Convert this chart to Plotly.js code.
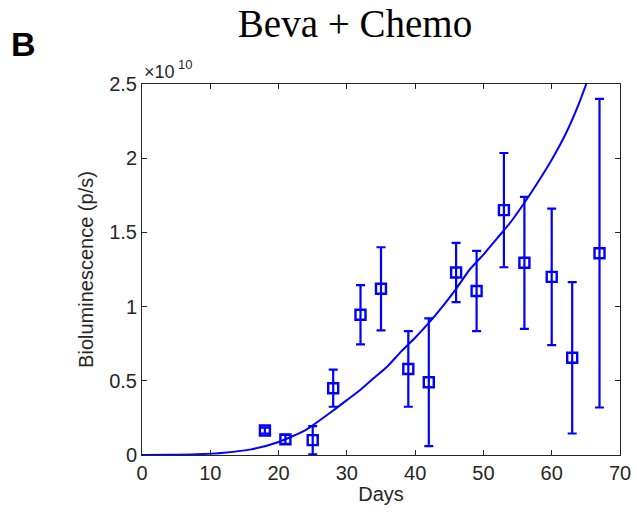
<!DOCTYPE html>
<html>
<head>
<meta charset="utf-8">
<script src="https://cdn.plot.ly/plotly-3.0.1.min.js"></script>
<style>html,body{margin:0;padding:0;background:#fff;}#chart{width:637px;height:514px;}</style>
</head>
<body>
<div id="chart"></div>
<script>
// Observed data (bioluminescence in units of 1e10 p/s)
var days = [18, 21, 25, 28, 32, 35, 39, 42, 46, 49, 53, 56, 60, 63, 67];
var meanVals = [0.165, 0.105, 0.10, 0.45, 0.945, 1.12, 0.58, 0.49, 1.23, 1.105, 1.65, 1.295, 1.20, 0.655, 1.36];
var errVals = [0.02, 0.03, 0.095, 0.125, 0.20, 0.28, 0.255, 0.43, 0.20, 0.27, 0.385, 0.445, 0.46, 0.51, 1.04];

// Model fit curve (units of 1e10 p/s)
var fitDays = [0, 4, 8, 12, 16, 20, 24, 28, 30, 32, 34, 36, 38, 40, 42, 44, 46, 48, 50, 52, 54, 56, 58, 60, 62, 64, 66];
var fitVals = [0, 0.001, 0.005, 0.016, 0.038, 0.088, 0.17, 0.30, 0.37, 0.44, 0.52, 0.60, 0.70, 0.79, 0.89, 1.00, 1.12, 1.25, 1.35, 1.46, 1.57, 1.70, 1.84, 1.99, 2.16, 2.37, 2.62];

var yTickVals = [0, 0.5, 1, 1.5, 2, 2.5];
var yTickText = ['0', '0.5', '1', '1.5', '2', '2.5'];
var xTickVals = [0, 10, 20, 30, 40, 50, 60, 70];

var blue = '#0000ff';
var axisColor = '#262626';

var traces = [
  {
    x: fitDays, y: fitVals, mode: 'lines', type: 'scatter',
    line: {color: blue, width: 2, shape: 'spline', smoothing: 0.6},
    hoverinfo: 'skip'
  },
  {
    x: days, y: meanVals, mode: 'markers', type: 'scatter',
    marker: {symbol: 'square-open', size: 10, color: blue, line: {color: blue, width: 2.4}},
    error_y: {type: 'data', array: errVals, visible: true, color: blue, thickness: 2.2, width: 4.5}
  }
];

var layout = {
  width: 637, height: 514,
  margin: {l: 142, r: 17, t: 84, b: 59},
  paper_bgcolor: '#ffffff', plot_bgcolor: '#ffffff',
  showlegend: false,
  font: {family: 'Liberation Sans, Arial, sans-serif', color: axisColor, size: 20},
  title: {
    text: 'Beva + Chemo',
    font: {family: 'Liberation Serif, Times New Roman, serif', size: 39, color: '#000000'},
    xref: 'paper', x: 0.4456, xanchor: 'center',
    yref: 'container', y: 0.955, yanchor: 'middle'
  },
  xaxis: {
    range: [0, 70], tickvals: xTickVals, ticks: 'inside', ticklen: 5, tickwidth: 1,
    tickcolor: axisColor, linecolor: axisColor, linewidth: 1, showline: true, mirror: 'ticks',
    showgrid: false, zeroline: false,
    tickfont: {size: 20, color: axisColor},
    title: {text: 'Days', font: {size: 20, color: axisColor}, standoff: 3}
  },
  yaxis: {
    range: [0, 2.5], tickvals: yTickVals, ticktext: yTickText, ticks: 'inside', ticklen: 5, tickwidth: 1,
    tickcolor: axisColor, linecolor: axisColor, linewidth: 1, showline: true, mirror: 'ticks',
    showgrid: false, zeroline: false,
    tickfont: {size: 20, color: axisColor},
    title: {text: 'Bioluminescence (p/s)', font: {size: 20, color: axisColor}, standoff: 10}
  },
  annotations: [
    {
      text: '×10', xref: 'paper', yref: 'paper', x: 0, y: 1,
      xanchor: 'left', yanchor: 'bottom', showarrow: false, xshift: 0, yshift: 0,
      font: {size: 18, color: axisColor}
    },
    {
      text: '10', xref: 'paper', yref: 'paper', x: 0, y: 1,
      xanchor: 'left', yanchor: 'bottom', showarrow: false, xshift: 34, yshift: 10,
      font: {size: 13, color: axisColor}
    },
    {
      text: '<b>B</b>', xref: 'paper', yref: 'paper', x: 0, y: 1,
      xanchor: 'left', yanchor: 'middle', showarrow: false,
      xshift: -133, yshift: 40,
      font: {family: 'Liberation Sans, Arial, sans-serif', size: 34, color: '#000000'}
    }
  ]
};

Plotly.newPlot('chart', traces, layout, {displayModeBar: false, staticPlot: true});
</script>
</body>
</html>
